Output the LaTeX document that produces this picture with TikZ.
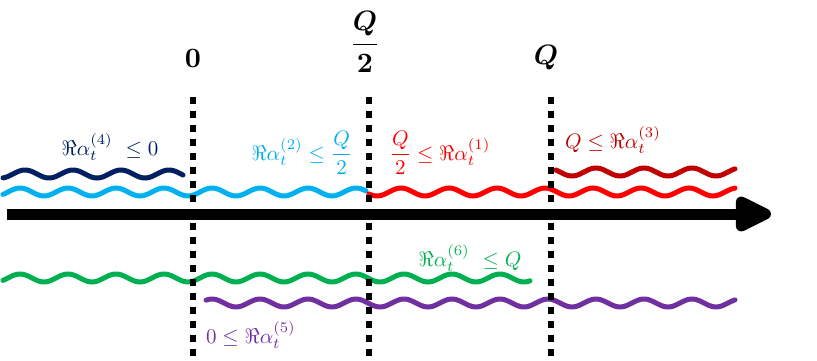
\documentclass[tikz,border=0pt]{standalone}
\usepackage{amsmath}
\usetikzlibrary{arrows.meta}
\definecolor{cnavy}{RGB}{0,32,96}
\definecolor{clblue}{RGB}{0,176,240}
\definecolor{cred}{RGB}{255,0,0}
\definecolor{cdred}{RGB}{192,0,0}
\definecolor{cgreen}{RGB}{0,176,80}
\definecolor{cpurple}{RGB}{112,48,160}
\tikzset{
  wave/.style={line width=5pt, line cap=round},
  divider/.style={line width=6pt, dash pattern=on 7pt off 7pt},
  axis/.style={line width=11pt, -{Triangle[length=43pt,width=38pt,round]}},
  lab/.style={inner sep=0pt, font=\normalsize, scale=2.1},
  ticklab/.style={inner sep=0pt, font=\normalsize\boldmath, scale=2.8},
}
\newcommand{\wavepath}[5]{% color, x0, x1, yc, phase x of top
  \draw[wave,#1] plot[domain=#2:#3, samples=120, smooth] (\x,{#4-4*cos(7.5*(\x-#5))});
}
\begin{document}
\begin{tikzpicture}[x=1pt,y=-1pt]
\useasboundingbox (0,0) rectangle (817,361);
% waves
\wavepath{cnavy}{3}{183}{174}{25}
\wavepath{clblue}{3}{366}{192}{20}
\wavepath{cred}{369}{735}{192}{17}
\wavepath{cdred}{556}{735}{172}{20}
\wavepath{cgreen}{3}{530}{278}{20}
\wavepath{cpurple}{206}{735}{303}{20}
% dividers
\coordinate (d0t) at (193,97); \coordinate (d0b) at (193,361);
\coordinate (d1t) at (369,97); \coordinate (d1b) at (369,361);
\coordinate (d2t) at (551,97); \coordinate (d2b) at (551,361);
\draw[divider] (d0t) -- (d0b);
\draw[divider] (d1t) -- (d1b);
\draw[divider] (d2t) -- (d2b);
% axis
\coordinate (axs) at (7,214);
\coordinate (axe) at (771,214);
\draw[axis] (axs) -- (axe);
% tick labels
\node[ticklab] (t0) at (193,58) {$\mathbf{0}$};
\node[ticklab] (t1) at (365,42) {$\dfrac{Q}{2}$};
\node[ticklab] (t2) at (546,58) {$Q$};
% region labels
\node[lab,text=cnavy] (l4) at (110,147) {$\Re\alpha_t^{(4)}\ \le 0$};
\node[lab,text=clblue] (l2) at (302,153) {$\Re\alpha_t^{(2)} \le \dfrac{Q}{2}$};
\node[lab,text=cred] (l1) at (440,153) {$\dfrac{Q}{2} \le \Re\alpha_t^{(1)}$};
\node[lab,text=cdred] (l3) at (613,140) {$Q \le \Re\alpha_t^{(3)}$};
\node[lab,text=cgreen] (l6) at (470,258) {$\Re\alpha_t^{(6)}\ \le Q$};
\node[lab,text=cpurple] (l5) at (251,335) {$0 \le \Re\alpha_t^{(5)}$};
\end{tikzpicture}
\end{document}
